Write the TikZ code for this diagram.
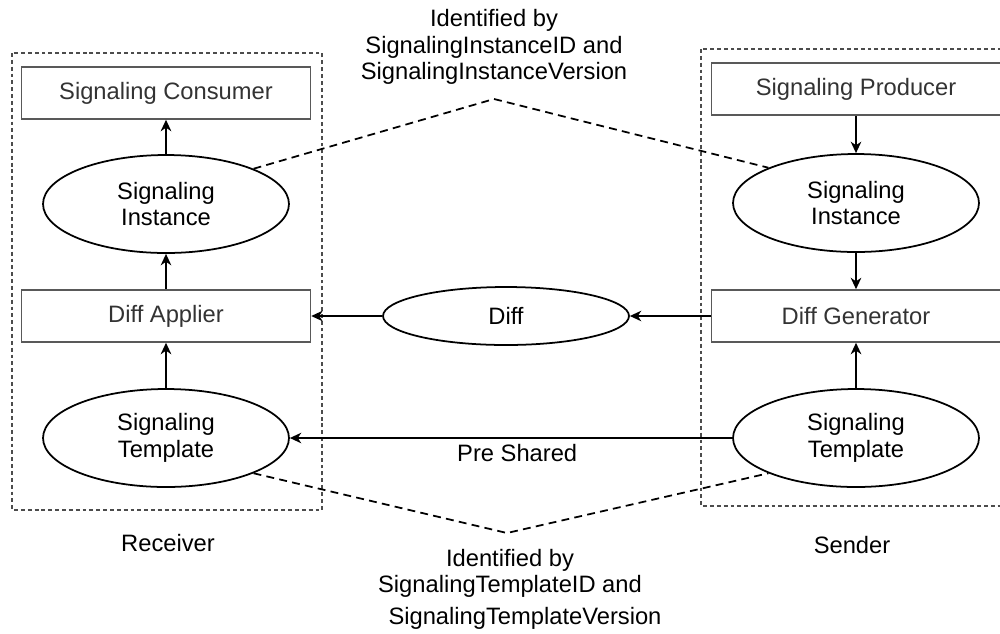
\documentclass[tikz,border=0pt]{standalone}
\usepackage{fontspec}
\setmainfont{Liberation Sans}
\usetikzlibrary{arrows.meta,shapes.geometric}

\begin{document}
\begin{tikzpicture}[x=0.02cm, y=-0.02cm, font=\fontsize{13.5}{15}\selectfont,
  block/.style={draw=black!65, line width=0.9pt, text=black!80, minimum width=5.78cm, minimum height=1.04cm, inner sep=0pt},
  data/.style={draw, ellipse, line width=1pt, minimum width=4.92cm, minimum height=1.96cm, inner sep=0pt, align=center},
  flow/.style={-{Stealth[length=6.5pt,width=6pt,inset=2pt]}, line width=1pt},
  side/.style={draw=black!70, line width=0.6pt, dash pattern=on 2.2pt off 1.7pt},
  ident/.style={line width=1pt, dash pattern=on 4.5pt off 3pt}]
\useasboundingbox (0,0) rectangle (1000,633);
\clip (0,0) rectangle (1000,633);
% receiver and sender
\draw[side] (12,53) rectangle (322,510);
\draw[side] (701,49) rectangle (1011,506);
\node (rcv) at (168,543) {Receiver};
\node (snd) at (852,545) {Sender};
% receiver side
\node[block] (cons) at (166,93) {Signaling Consumer};
\node[data] (linst) at (166,204) {Signaling\\Instance};
\node[block] (dapp) at (166,316) {Diff Applier};
\node[data] (ltpl) at (166,438) {Signaling\\Template};
% sender side
\node[block] (prod) at (856,89) {Signaling Producer};
\node[data] (rinst) at (856,203) {Signaling\\Instance};
\node[block] (dgen) at (856,316) {Diff Generator};
\node[data] (rtpl) at (856,438) {Signaling\\Template};
\node[data, minimum height=1.16cm] (diff) at (506,316) {Diff};
% flows
\draw[flow] (linst) -- (cons);
\draw[flow] (dapp) -- (linst);
\draw[flow] (ltpl) -- (dapp);
\draw[flow] (prod) -- (rinst);
\draw[flow] (rinst) -- (dgen);
\draw[flow] (rtpl) -- (dgen);
\draw[flow] (dgen.west) -- (diff.east);
\draw[flow] (diff.west) -- (dapp.east);
\draw[flow] (rtpl.west) -- node[below, pos=0.486] {Pre Shared} (ltpl.east);
% identification
\coordinate (itop) at (494,99);
\coordinate (ibot) at (507,533);
\draw[ident] (linst.north east) -- (itop) -- (rinst.north west);
\draw[ident] (ltpl.south east) -- (ibot) -- (rtpl.south west);
\node[align=center] (idinst) at (494,47) {Identified by\\SignalingInstanceID and\\SignalingInstanceVersion};
\node[align=center] (idtpl) at (510,589) {Identified by\\SignalingTemplateID and\\[3pt]\hspace{0.6cm}SignalingTemplateVersion};
\end{tikzpicture}
\end{document}
